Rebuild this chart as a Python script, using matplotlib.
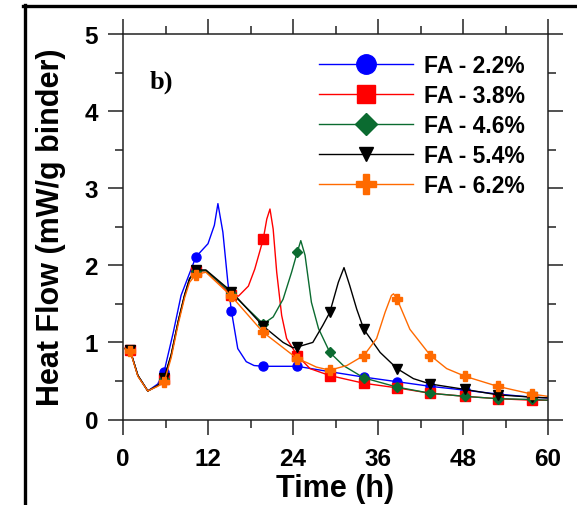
import numpy as np
import matplotlib
matplotlib.use("Agg")
import matplotlib.pyplot as plt
from matplotlib.lines import Line2D
from matplotlib.ticker import MultipleLocator

plt.rcParams['font.family'] = ['Liberation Sans', 'DejaVu Sans']
plt.rcParams['font.weight'] = 'bold'

# Heat flow curves (mW/g binder) vs time (h), one per fly ash content
t_mark = [1.0, 5.8, 10.3, 15.3, 19.8, 24.6, 29.2, 34.0, 38.7, 43.4, 48.3, 52.9, 57.7]

t_22 = [0.3, 1.0, 2.1, 3.5, 4.9, 5.8, 7.1, 8.2, 9.2, 10.3, 12.0, 12.9, 13.4, 14.1, 14.8,
        15.3, 16.2, 17.4, 18.5, 19.8, 24.6, 29.2, 34.0, 38.7, 43.4, 48.3, 52.9, 57.7, 60.0]
hf_22 = [0.92, 0.90, 0.57, 0.37, 0.46, 0.62, 1.13, 1.61, 1.85, 2.11, 2.28, 2.52, 2.80, 2.43, 1.78,
         1.41, 0.92, 0.75, 0.70, 0.69, 0.69, 0.62, 0.55, 0.49, 0.43, 0.38, 0.33, 0.29, 0.28]

t_38 = [0.3, 1.0, 2.1, 3.5, 4.9, 5.8, 6.8, 7.8, 8.7, 9.4, 10.3, 11.7, 15.3, 16.3, 17.7, 18.6,
        19.8, 20.3, 20.75, 21.2, 21.7, 22.4, 23.1, 24.6, 26.4, 29.2, 34.0, 38.7, 43.4, 48.3,
        52.9, 57.7, 60.0]
hf_38 = [0.92, 0.90, 0.57, 0.37, 0.44, 0.52, 0.83, 1.27, 1.61, 1.82, 1.92, 1.93, 1.62, 1.60, 1.73, 1.95,
         2.34, 2.60, 2.73, 2.47, 1.91, 1.35, 1.05, 0.83, 0.66, 0.57, 0.47, 0.41, 0.34, 0.30,
         0.27, 0.25, 0.25]

t_46 = [0.3, 1.0, 2.1, 3.5, 4.9, 5.8, 6.8, 7.8, 8.7, 9.4, 10.3, 11.7, 15.3, 19.8, 21.2, 22.6,
        23.8, 24.6, 25.1, 25.7, 26.6, 27.6, 29.2, 31.1, 34.0, 38.7, 43.4, 48.3, 52.9, 57.7, 60.0]
hf_46 = [0.92, 0.90, 0.57, 0.37, 0.44, 0.52, 0.83, 1.27, 1.61, 1.82, 1.93, 1.93, 1.64, 1.24, 1.33, 1.56,
         1.91, 2.17, 2.32, 2.13, 1.52, 1.18, 0.87, 0.70, 0.54, 0.42, 0.34, 0.30, 0.27, 0.26, 0.25]

t_54 = [0.3, 1.0, 2.1, 3.5, 4.9, 5.8, 6.8, 7.8, 8.7, 9.4, 10.3, 11.7, 15.3, 19.8, 22.6, 24.0,
        24.6, 26.8, 28.2, 29.2, 30.4, 31.2, 32.0, 33.0, 34.0, 36.3, 38.7, 41.0, 43.4, 48.3,
        52.9, 57.7, 60.0]
hf_54 = [0.92, 0.90, 0.57, 0.37, 0.44, 0.54, 0.84, 1.28, 1.62, 1.83, 1.94, 1.94, 1.66, 1.21, 1.00, 0.93,
         0.94, 1.00, 1.22, 1.39, 1.78, 1.97, 1.74, 1.43, 1.17, 0.87, 0.66, 0.53, 0.46, 0.39,
         0.32, 0.29, 0.28]

t_62 = [0.3, 1.0, 2.1, 3.5, 4.9, 5.8, 6.8, 7.8, 8.7, 9.4, 10.3, 11.7, 15.3, 19.8, 24.6, 25.9,
        27.3, 29.2, 31.6, 34.0, 35.8, 37.0, 37.9, 38.2, 38.7, 40.5, 43.4, 45.7, 48.3, 52.9,
        57.7, 60.0]
hf_62 = [0.92, 0.89, 0.56, 0.37, 0.43, 0.48, 0.80, 1.24, 1.58, 1.78, 1.88, 1.91, 1.60, 1.13, 0.79, 0.74,
         0.68, 0.64, 0.70, 0.83, 1.05, 1.39, 1.61, 1.63, 1.56, 1.17, 0.83, 0.66, 0.56, 0.43,
         0.33, 0.30]

labels = ['FA - 2.2%', 'FA - 3.8%', 'FA - 4.6%', 'FA - 5.4%', 'FA - 6.2%']
colors = ['#0000ff', '#ff0000', '#0b6b30', '#000000', '#ff6a00']
markers = ['o', 's', 'D', 'v', 'P']
msizes = [6.5, 6.5, 5, 6.5, 7]
leg_msizes = [14, 13.5, 11, 9.5, 14]

series = [(t_22, hf_22), (t_38, hf_38), (t_46, hf_46), (t_54, hf_54), (t_62, hf_62)]

fig = plt.figure(figsize=(5.77, 5.06), dpi=100)
ax = fig.add_axes([123 / 577, 1 - 420.5 / 506, 425 / 577, 385.5 / 506])

for (t, hf), lab, c, m, ms in zip(series, labels, colors, markers, msizes):
    t = np.array(t)
    idx = np.where(np.isin(t, t_mark))[0]
    ax.plot(t, hf, color=c, lw=1.0, marker=m, ms=ms, markevery=list(idx),
            mec=c, mfc=c, label=lab)

ax.set_xlim(0, 60)
ax.set_ylim(0, 5)
ax.xaxis.set_major_locator(MultipleLocator(12))
ax.xaxis.set_minor_locator(MultipleLocator(6))
ax.yaxis.set_major_locator(MultipleLocator(1))
ax.yaxis.set_minor_locator(MultipleLocator(0.5))
ax.tick_params(which='both', direction='out', top=True, right=True, width=1.1,
               color='#222222', labelsize=17.5)
ax.tick_params(which='major', length=11)
ax.tick_params(which='minor', length=6)
ax.tick_params(axis='x', pad=9)
ax.tick_params(axis='y', pad=7)
ax.tick_params(labeltop=False, labelright=False)
for s in ax.spines.values():
    s.set_linewidth(1.1)
    s.set_color('#222222')

ax.set_xlabel('Time (h)', fontsize=22, fontweight='bold', labelpad=2)
ax.set_ylabel('Heat Flow (mW/g binder)', fontsize=22, fontweight='bold', labelpad=13)

ax.text(0.062, 0.878, 'b)', transform=ax.transAxes, fontsize=19, fontweight='bold',
        family='Liberation Serif', va='center', ha='left')

leg = ax.legend(loc='upper left', bbox_to_anchor=(0.462, 0.948), frameon=False,
                fontsize=16.5, handlelength=4.1, handletextpad=0.45,
                labelspacing=0.31, borderpad=0, borderaxespad=0)
for h, s in zip(leg.legend_handles, leg_msizes):
    h.set_markersize(s)

# outer frame
fig.add_artist(Line2D([23 / 577, 1.0], [1 - 7 / 506, 1 - 7 / 506], color='black', lw=2.4,
                      transform=fig.transFigure))
fig.add_artist(Line2D([24.5 / 577, 24.5 / 577], [0.0, 1 - 5.8 / 506], color='black', lw=2.4,
                      transform=fig.transFigure))

fig.savefig('out.png', dpi=100)
